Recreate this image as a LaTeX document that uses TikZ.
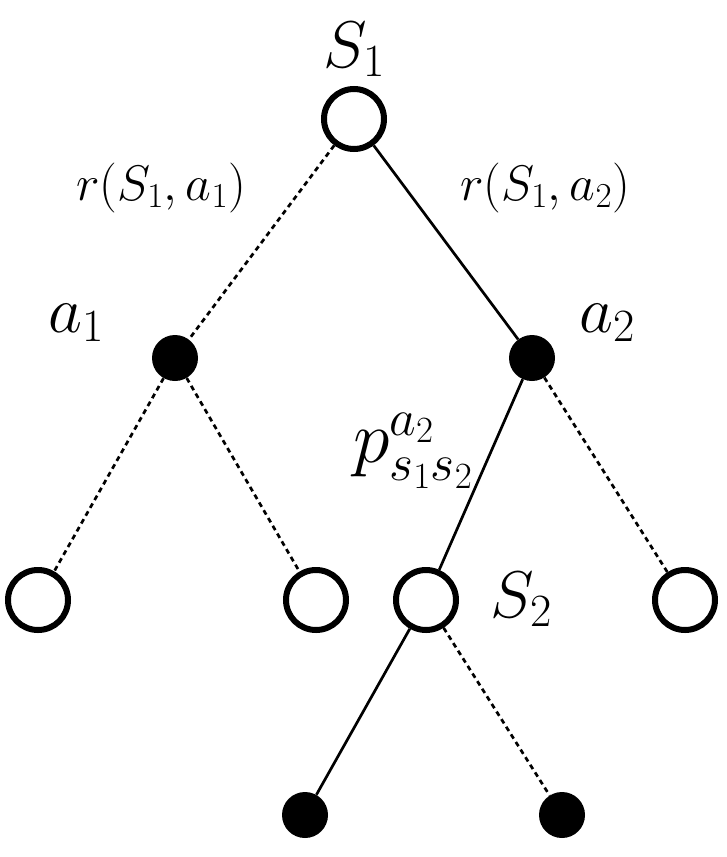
\RequirePackage{fix-cm}
\documentclass[tikz,border=0pt]{standalone}
\usepackage{amsmath}
\begin{document}
\begin{tikzpicture}[x=1pt,y=-1pt,
    state/.style={circle,draw,line width=6pt,minimum size=60pt,inner sep=0pt,fill=white},
    act/.style={circle,fill=black,minimum size=46pt,inner sep=0pt},
    line edge/.style={line width=2.7pt},
    dash edge/.style={line width=2.7pt,dash pattern=on 5pt off 4pt},
    big/.style={inner sep=0pt,font=\fontsize{66}{70}\selectfont},
    small/.style={inner sep=0pt,font=\fontsize{50}{54}\selectfont}]
    \useasboundingbox (0,0) rectangle (727,857);
    % tree nodes
    \node[state] (s1) at (354,119) {};
    \node[act] (a1) at (175,358) {};
    \node[act] (a2) at (532,358) {};
    \node[state] (l1) at (38,600) {};
    \node[state] (l2) at (316,600) {};
    \node[state] (s2) at (426,600) {};
    \node[state] (l4) at (685,600) {};
    \node[act] (b1) at (305,815) {};
    \node[act] (b2) at (562,815) {};
    % edges
    \draw[dash edge] (s1) -- (a1);
    \draw[line edge] (s1) -- (a2);
    \draw[dash edge] (a1) -- (l1);
    \draw[dash edge] (a1) -- (l2);
    \draw[line edge] (a2) -- (s2);
    \draw[dash edge] (a2) -- (l4);
    \draw[line edge] (s2) -- (b1);
    \draw[dash edge] (s2) -- (b2);
    % labels
    \node[big,anchor=base] (ls1) at (354,67) {$S_1$};
    \node[small,anchor=base] (r1) at (161,200) {$r(S_1,a_1)$};
    \node[small,anchor=base] (r2) at (545,200) {$r(S_1,a_2)$};
    \node[big,anchor=base] (la1) at (76,332) {$a_1$};
    \node[big,anchor=base] (la2) at (607,332) {$a_2$};
    \node[big,anchor=base west,fill=white,font=\fontsize{74}{78}\selectfont] (p) at (353,462) {$p^{a_2}_{s_1s_2}$};
    \node[big,anchor=base] (ls2) at (521,617) {$S_2$};
\end{tikzpicture}
\end{document}
